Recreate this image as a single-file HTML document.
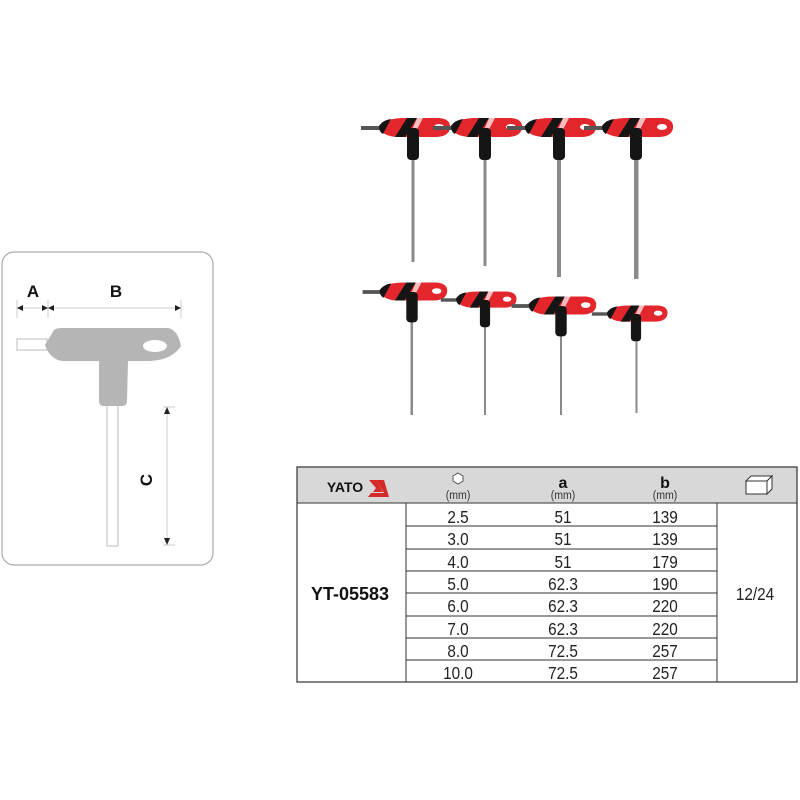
<!DOCTYPE html>
<html><head><meta charset="utf-8"><style>
html,body{margin:0;padding:0;background:#fff;}
svg{display:block;font-family:"Liberation Sans",Arial,sans-serif;}
</style></head><body>
<svg width="800" height="800" viewBox="0 0 800 800" xmlns="http://www.w3.org/2000/svg">
<defs>
<g id="h">
  <rect x="-52" y="-2" width="22" height="4" fill="#555"/>
  <path d="M-34,-2 Q-28,-10 -8,-10 L26,-10 Q38,-9 37,0 Q36,8 24,9 L-16,9 Q-32,8 -34,-2Z" fill="#e3262c"/>
  <path d="M-34,-2 Q-30,-8 -22,-9 L-30,6 Q-34,4 -34,-2Z" fill="#151515"/>
  <path d="M-6,-10 L4,-10 L-8,9 L-18,9Z" fill="#151515"/>
  <path d="M4,-10 L10,-10 L0,9 L-4,9Z" fill="#fff" opacity="0.7"/>
  <ellipse cx="26" cy="-1" rx="5" ry="3" fill="#fff"/>
  <rect x="-6" y="0" width="12" height="32" rx="4" fill="#151515"/>
</g>
</defs>
<g fill="#8a8a8a">
<rect x="411.5" y="150" width="3" height="112"/>
<rect x="483.5" y="150" width="3" height="116"/>
<rect x="557" y="150" width="4" height="127"/>
<rect x="634" y="150" width="4.5" height="129"/>
<rect x="410.5" y="315" width="2.5" height="100"/>
<rect x="484" y="318" width="2" height="97"/>
<rect x="560" y="330" width="2" height="85"/>
<rect x="635.5" y="335" width="2" height="78"/>
</g>
<use href="#h" transform="translate(413,128)"/>
<use href="#h" transform="translate(485,128)"/>
<use href="#h" transform="translate(559,128)"/>
<use href="#h" transform="translate(636,128)"/>
<use href="#h" transform="translate(412,292) scale(0.95)"/>
<use href="#h" transform="translate(485,300) scale(0.85)"/>
<use href="#h" transform="translate(561,306) scale(0.95)"/>
<use href="#h" transform="translate(636,314) scale(0.85)"/>

<rect x="2" y="252" width="211" height="313" rx="12" fill="#fff" stroke="#aaa" stroke-width="1.2"/>
<text x="33" y="297" font-size="17" font-weight="bold" text-anchor="middle" fill="#111">A</text>
<text x="116" y="297" font-size="17" font-weight="bold" text-anchor="middle" fill="#111">B</text>
<g stroke="#ccc" stroke-width="1">
<line x1="17" y1="300" x2="17" y2="318"/><line x1="48" y1="300" x2="48" y2="318"/><line x1="181" y1="300" x2="181" y2="318"/>
<line x1="17" y1="308" x2="48" y2="308"/><line x1="48" y1="308" x2="181" y2="308"/>
<line x1="163" y1="407" x2="175" y2="407"/><line x1="163" y1="545" x2="175" y2="545"/>
<line x1="167" y1="407" x2="167" y2="545"/>
</g>
<g fill="#222">
<path d="M17,308 l6,-3 v6z"/><path d="M48,308 l-6,-3 v6z"/><path d="M48,308 l6,-3 v6z"/><path d="M181,308 l-6,-3 v6z"/>
<path d="M167,407 l-3,7 h6z"/><path d="M167,545 l-3,-7 h6z"/>
</g>
<text x="0" y="0" font-size="17" font-weight="bold" text-anchor="middle" fill="#111" transform="translate(152,480) rotate(-90)">C</text>
<rect x="17" y="339" width="30" height="11" fill="#fff" stroke="#bbb"/>
<rect x="107" y="400" width="11" height="146" fill="#fff" stroke="#bbb"/>
<path d="M54,330 Q56,328 62,328 L168,328 Q178,330 181,346 Q172,360 150,361 L128,361 L127,401 Q127,406 122,406 L104,406 Q99,406 99,401 L99,361 L62,361 Q50,359 45,345 Z" fill="#b5b5b5"/>
<ellipse cx="155" cy="346" rx="12" ry="6" fill="#fff"/>

<rect x="297" y="467" width="500" height="36" fill="#d8d8d8"/>
<rect x="297" y="467" width="500" height="215" fill="none" stroke="#333" stroke-width="1.2"/>
<line x1="297" y1="503" x2="797" y2="503" stroke="#333"/>
<line x1="406" y1="503" x2="406" y2="682" stroke="#333"/>
<line x1="717" y1="503" x2="717" y2="682" stroke="#333"/>
<g stroke="#333" stroke-width="1">
<line x1="406" y1="526" x2="717" y2="526"/><line x1="406" y1="549" x2="717" y2="549"/>
<line x1="406" y1="571" x2="717" y2="571"/><line x1="406" y1="593" x2="717" y2="593"/>
<line x1="406" y1="616" x2="717" y2="616"/><line x1="406" y1="638" x2="717" y2="638"/>
<line x1="406" y1="660" x2="717" y2="660"/>
</g>
<text x="345" y="492" font-size="14" font-weight="bold" text-anchor="middle" fill="#111">YATO</text>
<path d="M369,480 L376,480 L383,492 L373,492 L376,488 Z M376,480 L384,480 L389,497 L368,497 L371,493 L384,493 Z" fill="#d42a2a"/>
<polygon points="458,473 463,476 463,481 458,484 453,481 453,476" fill="#fff" stroke="#555"/>
<g font-size="12" text-anchor="middle" fill="#333" transform="scale(0.88,1)">
<text x="520.5" y="499">(mm)</text><text x="639.8" y="499">(mm)</text><text x="755.7" y="499">(mm)</text>
</g>
<g font-size="16" font-weight="bold" text-anchor="middle" fill="#111">
<text x="563" y="488">a</text><text x="665" y="488">b</text>
</g>
<g fill="#fff" stroke="#333" stroke-width="1">
<path d="M746,481 l5,-5 h21 l-5,5z"/><path d="M767,481 l5,-5 v13 l-5,5z"/><rect x="746" y="481" width="21" height="13"/>
</g>
<g font-size="18" text-anchor="middle" fill="#222" transform="scale(0.85,1)">
<text x="538.8" y="523">2.5</text><text x="662.4" y="523">51</text><text x="782.4" y="523">139</text>
<text x="538.8" y="545">3.0</text><text x="662.4" y="545">51</text><text x="782.4" y="545">139</text>
<text x="538.8" y="568">4.0</text><text x="662.4" y="568">51</text><text x="782.4" y="568">179</text>
<text x="538.8" y="590">5.0</text><text x="662.4" y="590">62.3</text><text x="782.4" y="590">190</text>
<text x="538.8" y="612">6.0</text><text x="662.4" y="612">62.3</text><text x="782.4" y="612">220</text>
<text x="538.8" y="635">7.0</text><text x="662.4" y="635">62.3</text><text x="782.4" y="635">220</text>
<text x="538.8" y="657">8.0</text><text x="662.4" y="657">72.5</text><text x="782.4" y="657">257</text>
<text x="538.8" y="679">10.0</text><text x="662.4" y="679">72.5</text><text x="782.4" y="679">257</text>
<text x="888.2" y="600">12/24</text>
</g>
<text x="350" y="600" font-size="18" font-weight="bold" text-anchor="middle" fill="#111">YT-05583</text>
</svg>
</body></html>
